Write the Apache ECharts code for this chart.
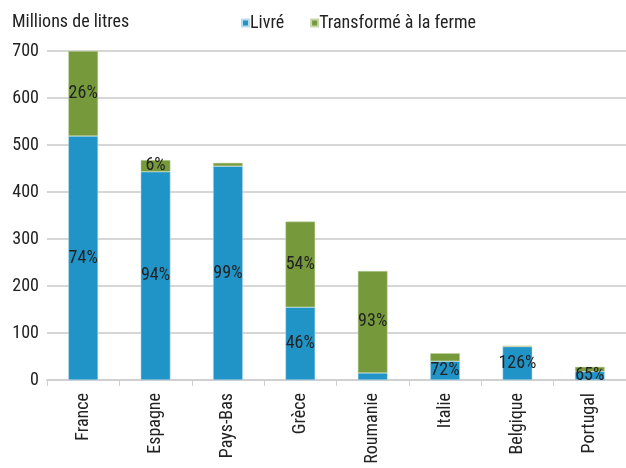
<!DOCTYPE html>
<html>
<head>
<meta charset="utf-8">
<script src="https://cdn.jsdelivr.net/npm/echarts@6/dist/echarts.min.js"></script>
<style>
html, body { margin: 0; padding: 0; background: #fff; }
#chart { width: 626px; height: 468px; }
</style>
</head>
<body>
<div id="chart"></div>
<script>
// données
var pays = ['France', 'Espagne', 'Pays-Bas', 'Grèce', 'Roumanie', 'Italie', 'Belgique', 'Portugal'];
var livre = [519, 443, 455, 155, 15, 40, 71, 18];
var ferme = [181, 25, 7, 182, 217, 17, 2, 10];
var livreLabels = ['74%', '94%', '99%', '46%', '', '72%', '126%', '65%'];
var fermeLabels = ['26%', '6%', '', '54%', '93%', '', '', ''];
var yTicks = [0, 100, 200, 300, 400, 500, 600, 700];

var police = '"Liberation Sans Narrow", "Arial Narrow", "Roboto Condensed", "Liberation Sans", sans-serif';

function withLabels(values, labels) {
    return values.map(function (v, i) {
        return { value: v, label: { show: labels[i] !== '', formatter: labels[i] } };
    });
}

var chart = echarts.init(document.getElementById('chart'));
var option = {
    animation: false,
    textStyle: { fontFamily: police },
    title: {
        text: 'Millions de litres',
        left: 7,
        top: 8,
        textStyle: { fontFamily: police, fontSize: 18, fontWeight: 'normal', color: '#222' }
    },
    legend: {
        left: 236,
        top: 9,
        itemWidth: 7,
        itemHeight: 7,
        itemGap: 26,
        icon: 'rect',
        textStyle: { fontFamily: police, fontSize: 18, color: '#222', padding: [0, 0, 0, -4] },
        data: ['Livré', 'Transformé à la ferme']
    },
    grid: { left: 47, right: 0, top: 51, bottom: 88 },
    xAxis: {
        type: 'category',
        data: pays,
        axisLine: { lineStyle: { color: '#d0d0d0', width: 2 } },
        axisTick: { show: true, length: 6, lineStyle: { color: '#d0d0d0' } },
        axisLabel: { rotate: 90, fontFamily: police, fontSize: 18, color: '#222', margin: 13 }
    },
    yAxis: {
        type: 'value',
        min: 0,
        max: 700,
        interval: 100,
        axisLine: { show: false },
        axisTick: { show: false },
        axisLabel: { fontFamily: police, fontSize: 18, color: '#222', margin: 8,
            customValues: yTicks },
        splitLine: { lineStyle: { color: '#d6d6d6', width: 2 } }
    },
    series: [
        {
            name: 'Livré',
            type: 'bar',
            stack: 'total',
            barWidth: '41%',
            itemStyle: { color: '#2093c7', borderColor: '#b9dcec', borderWidth: 0.5 },
            label: { position: 'inside', fontFamily: police, fontSize: 18, color: '#222' },
            data: withLabels(livre, livreLabels)
        },
        {
            name: 'Transformé à la ferme',
            type: 'bar',
            stack: 'total',
            itemStyle: { color: '#76993b', borderColor: '#c6d6aa', borderWidth: 0.5 },
            label: { position: 'inside', fontFamily: police, fontSize: 18, color: '#222' },
            data: withLabels(ferme, fermeLabels)
        }
    ]
};
chart.setOption(option);
</script>
</body>
</html>
